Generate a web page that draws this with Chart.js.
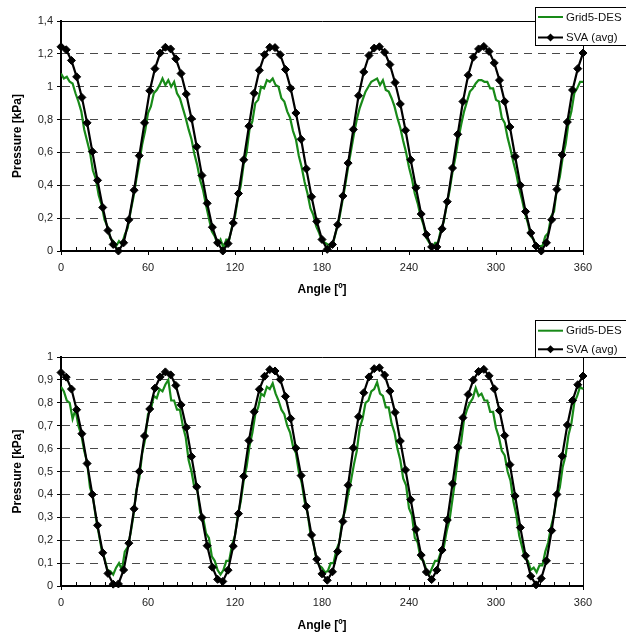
<!DOCTYPE html>
<html lang="en">
<head>
<meta charset="UTF-8">
<title>Pressure vs Angle</title>
<script src="https://cdn.jsdelivr.net/npm/chart.js"></script>
<style>
    body { margin: 0; background: #fff; }
    .grafico { position: absolute; left: 0; }
</style>
</head>
<body>
<canvas id="chartTop" class="grafico" width="626" height="305" style="top:0px"></canvas>
<canvas id="chartBottom" class="grafico" width="626" height="327" style="top:310px"></canvas>
<script>
// angulos das series
var anguloSVA = [0, 3.6, 7.2, 10.8, 14.4, 18, 21.6, 25.2, 28.8, 32.4, 36, 39.6, 43.2, 46.8, 50.4, 54, 57.6, 61.2, 64.8, 68.4,
    72, 75.6, 79.2, 82.8, 86.4, 90, 93.6, 97.2, 100.8, 104.4, 108, 111.6, 115.2, 118.8, 122.4, 126, 129.6, 133.2, 136.8, 140.4,
    144, 147.6, 151.2, 154.8, 158.4, 162, 165.6, 169.2, 172.8, 176.4, 180, 183.6, 187.2, 190.8, 194.4, 198, 201.6, 205.2, 208.8, 212.4,
    216, 219.6, 223.2, 226.8, 230.4, 234, 237.6, 241.2, 244.8, 248.4, 252, 255.6, 259.2, 262.8, 266.4, 270, 273.6, 277.2, 280.8, 284.4,
    288, 291.6, 295.2, 298.8, 302.4, 306, 309.6, 313.2, 316.8, 320.4, 324, 327.6, 331.2, 334.8, 338.4, 342, 345.6, 349.2, 352.8, 356.4, 360];

var anguloDES = [0, 2, 4, 6, 8, 10, 12, 14, 16, 18, 20, 22, 24, 26, 28, 30, 32, 34, 36, 38,
    40, 42, 44, 46, 48, 50, 52, 54, 56, 58, 60, 62, 64, 66, 68, 70, 72, 74, 76, 78,
    80, 82, 84, 86, 88, 90, 92, 94, 96, 98, 100, 102, 104, 106, 108, 110, 112, 114, 116, 118,
    120, 122, 124, 126, 128, 130, 132, 134, 136, 138, 140, 142, 144, 146, 148, 150, 152, 154, 156, 158,
    160, 162, 164, 166, 168, 170, 172, 174, 176, 178, 180, 182, 184, 186, 188, 190, 192, 194, 196, 198,
    200, 202, 204, 206, 208, 210, 212, 214, 216, 218, 220, 222, 224, 226, 228, 230, 232, 234, 236, 238,
    240, 242, 244, 246, 248, 250, 252, 254, 256, 258, 260, 262, 264, 266, 268, 270, 272, 274, 276, 278,
    280, 282, 284, 286, 288, 290, 292, 294, 296, 298, 300, 302, 304, 306, 308, 310, 312, 314, 316, 318,
    320, 322, 324, 326, 328, 330, 332, 334, 336, 338, 340, 342, 344, 346, 348, 350, 352, 354, 356, 358,
    360, 362];

var ticksX = [0, 60, 120, 180, 240, 300, 360];

// grafico de cima
var svaTop = [1.243, 1.225, 1.16, 1.06, 0.935, 0.78, 0.605, 0.43, 0.265, 0.125, 0.04, 0.0, 0.05, 0.19, 0.37, 0.58, 0.78, 0.975, 1.11, 1.205,
    1.24, 1.23, 1.17, 1.08, 0.955, 0.805, 0.635, 0.46, 0.29, 0.145, 0.05, 0.0, 0.045, 0.17, 0.35, 0.555, 0.76, 0.96, 1.1, 1.195,
    1.24, 1.238, 1.195, 1.105, 0.99, 0.84, 0.68, 0.5, 0.33, 0.18, 0.07, 0.01, 0.04, 0.16, 0.335, 0.535, 0.74, 0.945, 1.09, 1.19,
    1.235, 1.243, 1.21, 1.135, 1.025, 0.895, 0.735, 0.555, 0.385, 0.225, 0.1, 0.025, 0.025, 0.135, 0.3, 0.505, 0.71, 0.91, 1.07, 1.18,
    1.23, 1.245, 1.215, 1.145, 1.04, 0.91, 0.755, 0.575, 0.4, 0.24, 0.11, 0.03, 0.0, 0.05, 0.19, 0.375, 0.585, 0.785, 0.98, 1.11, 1.205];

var desTop = [1.08, 1.05, 1.06, 1.03, 1.02, 0.96, 0.91, 0.85, 0.74, 0.67, 0.6, 0.49, 0.44, 0.34, 0.28, 0.19, 0.15, 0.08, 0.06, 0.03,
    0.06, 0.04, 0.1, 0.14, 0.24, 0.33, 0.44, 0.54, 0.65, 0.73, 0.84, 0.88, 0.96, 0.98, 1.01, 1.05, 1.01, 1.04, 1.0, 1.03,
    0.96, 0.93, 0.87, 0.81, 0.74, 0.68, 0.59, 0.52, 0.43, 0.37, 0.28, 0.2, 0.12, 0.09, 0.04, 0.07, 0.02, 0.07, 0.07, 0.15,
    0.21, 0.32, 0.4, 0.53, 0.6, 0.74, 0.79, 0.9, 0.92, 1.0, 0.99, 1.04, 1.03, 1.05, 1.01, 1.0, 0.93, 0.91, 0.85, 0.81,
    0.73, 0.68, 0.58, 0.51, 0.42, 0.35, 0.26, 0.22, 0.15, 0.11, 0.06, 0.05, 0.04, 0.03, 0.06, 0.13, 0.2, 0.3, 0.4, 0.51,
    0.61, 0.71, 0.8, 0.87, 0.92, 0.97, 1.0, 1.03, 1.04, 1.05, 1.01, 1.04, 0.98, 0.97, 0.93, 0.88, 0.81, 0.75, 0.67, 0.6,
    0.51, 0.44, 0.35, 0.29, 0.21, 0.16, 0.08, 0.05, 0.02, 0.05, 0.05, 0.13, 0.18, 0.28, 0.37, 0.48, 0.57, 0.68, 0.77, 0.85,
    0.91, 0.97, 0.99, 1.02, 1.04, 1.04, 1.03, 1.03, 0.99, 0.99, 0.92, 0.91, 0.81, 0.78, 0.69, 0.62, 0.54, 0.47, 0.38, 0.31,
    0.23, 0.17, 0.09, 0.07, 0.02, 0.03, 0.03, 0.09, 0.11, 0.21, 0.24, 0.38, 0.45, 0.57, 0.65, 0.78, 0.85, 0.96, 0.99, 1.03,
    1.03, 1.06];

// grafico de baixo
var svaBottom = [0.932, 0.912, 0.86, 0.77, 0.665, 0.535, 0.4, 0.265, 0.145, 0.055, 0.008, 0.009, 0.07, 0.187, 0.337, 0.5, 0.655, 0.773, 0.864, 0.913,
    0.935, 0.922, 0.876, 0.791, 0.692, 0.565, 0.433, 0.299, 0.176, 0.082, 0.029, 0.02, 0.069, 0.174, 0.316, 0.479, 0.635, 0.761, 0.859, 0.916,
    0.945, 0.939, 0.902, 0.828, 0.731, 0.602, 0.482, 0.348, 0.223, 0.117, 0.053, 0.025, 0.062, 0.151, 0.282, 0.44, 0.603, 0.739, 0.844, 0.913,
    0.949, 0.953, 0.921, 0.851, 0.758, 0.633, 0.507, 0.377, 0.247, 0.135, 0.061, 0.028, 0.069, 0.157, 0.288, 0.446, 0.606, 0.735, 0.836, 0.9,
    0.937, 0.946, 0.918, 0.861, 0.766, 0.657, 0.53, 0.393, 0.255, 0.132, 0.043, 0.005, 0.033, 0.11, 0.242, 0.4, 0.567, 0.703, 0.81, 0.879, 0.917];

var desBottom = [0.87, 0.85, 0.81, 0.8, 0.73, 0.77, 0.7, 0.66, 0.59, 0.54, 0.43, 0.39, 0.3, 0.23, 0.16, 0.12, 0.07, 0.065, 0.05, 0.08,
    0.1, 0.07, 0.15, 0.17, 0.23, 0.31, 0.42, 0.47, 0.58, 0.64, 0.75, 0.77, 0.83, 0.82, 0.86, 0.85, 0.88, 0.9, 0.81, 0.81,
    0.77, 0.77, 0.7, 0.65, 0.55, 0.5, 0.43, 0.42, 0.32, 0.3, 0.23, 0.21, 0.13, 0.11, 0.07, 0.05, 0.07, 0.11, 0.11, 0.18,
    0.22, 0.31, 0.37, 0.46, 0.52, 0.61, 0.67, 0.75, 0.78, 0.84, 0.83, 0.87, 0.86, 0.885, 0.84, 0.81, 0.77, 0.75, 0.7, 0.67,
    0.61, 0.58, 0.5, 0.45, 0.37, 0.32, 0.23, 0.19, 0.12, 0.09, 0.08, 0.06, 0.065, 0.1, 0.1, 0.16, 0.19, 0.29, 0.33, 0.4,
    0.46, 0.53, 0.59, 0.69, 0.73, 0.8, 0.81, 0.85, 0.86, 0.89, 0.84, 0.83, 0.78, 0.78, 0.71, 0.67, 0.6, 0.55, 0.47, 0.44,
    0.34, 0.31, 0.21, 0.19, 0.12, 0.11, 0.07, 0.05, 0.08, 0.11, 0.11, 0.15, 0.17, 0.24, 0.29, 0.38, 0.47, 0.58, 0.63, 0.73,
    0.77, 0.8, 0.82, 0.865, 0.83, 0.84, 0.81, 0.81, 0.76, 0.76, 0.69, 0.65, 0.59, 0.57, 0.5, 0.46, 0.37, 0.31, 0.22, 0.17,
    0.12, 0.11, 0.07, 0.08, 0.06, 0.09, 0.09, 0.15, 0.19, 0.26, 0.31, 0.39, 0.43, 0.52, 0.57, 0.66, 0.71, 0.8, 0.83, 0.87,
    0.86, 0.87];

var corVerde = '#188a18';

Chart.defaults.font.family = "'Liberation Sans', Arial, sans-serif";
Chart.defaults.font.size = 11;
Chart.defaults.color = '#222';

// linhas de cima e da direita da area do grafico + tracinhos menores do eixo x
var moldura = {
    id: 'moldura',
    beforeDatasetsDraw(chart) {
        var a = chart.chartArea, ctx = chart.ctx, sx = chart.scales.x;
        ctx.save();
        ctx.strokeStyle = '#000';
        ctx.lineWidth = 1;
        ctx.beginPath();
        ctx.moveTo(a.left, a.top + 0.5);
        ctx.lineTo(a.right + 0.5, a.top + 0.5);
        ctx.lineTo(a.right + 0.5, a.bottom);
        for (var v = 10; v < 360; v += 10) {
            if (v % 60 === 0) continue;
            var px = Math.round(sx.getPixelForValue(v)) + 0.5;
            ctx.moveTo(px, a.bottom);
            ctx.lineTo(px, a.bottom - 4);
        }
        ctx.stroke();
        ctx.restore();
    }
};

// legenda com caixa no canto
var caixaLegenda = {
    id: 'caixaLegenda',
    afterDraw(chart, args, opts) {
        var ctx = chart.ctx;
        ctx.save();
        ctx.fillStyle = '#fff';
        ctx.fillRect(opts.x, opts.top, 120, opts.bottom - opts.top);
        ctx.strokeStyle = '#000';
        ctx.lineWidth = 1;
        ctx.strokeRect(opts.x + 0.5, opts.top + 0.5, 120, opts.bottom - opts.top);
        var ds = chart.data.datasets;
        var itens = [ds[1], ds[0]];
        ctx.font = "11.5px 'Liberation Sans', Arial, sans-serif";
        ctx.textBaseline = 'middle';
        itens.forEach(function (d, i) {
            var y = opts.linhas[i];
            ctx.strokeStyle = d.borderColor;
            ctx.lineWidth = 2;
            ctx.beginPath();
            ctx.moveTo(opts.x + 3, y);
            ctx.lineTo(opts.x + 28, y);
            ctx.stroke();
            if (d.pointRadius > 0) {
                ctx.fillStyle = '#000';
                ctx.beginPath();
                var cx = opts.x + 15.5, r = 4;
                ctx.moveTo(cx, y - r);
                ctx.lineTo(cx + r, y);
                ctx.lineTo(cx, y + r);
                ctx.lineTo(cx - r, y);
                ctx.closePath();
                ctx.fill();
            }
            ctx.fillStyle = '#111';
            ctx.fillText(d.label, opts.x + 31, y + 0.5);
        });
        ctx.restore();
    }
};

function formataY(v) {
    var r = Math.round(v * 10) / 10;
    return String(r).replace('.', ',');
}

function montarGrafico(id, verde, preto, yMax, yStep, topo, alturaX, padTitulo, legenda) {
    var pontosPreto = anguloSVA.map(function (a, i) { return { x: a, y: preto[i] }; });
    var pontosVerde = anguloDES.map(function (a, i) { return { x: a, y: verde[i] }; });
    return new Chart(document.getElementById(id), {
        type: 'scatter',
        data: {
            datasets: [
                {
                    label: 'SVA (avg)',
                    data: pontosPreto,
                    showLine: true,
                    borderColor: '#000',
                    borderWidth: 2.2,
                    pointStyle: 'rectRot',
                    pointRadius: 4,
                    pointBackgroundColor: '#000',
                    pointBorderColor: '#000',
                    pointBorderWidth: 1,
                    clip: false,
                    order: 0
                },
                {
                    label: 'Grid5-DES',
                    data: pontosVerde,
                    showLine: true,
                    borderColor: corVerde,
                    borderWidth: 2.2,
                    pointRadius: 0,
                    clip: { left: 0, top: 0, right: 5, bottom: 0 },
                    order: 1
                }
            ]
        },
        options: {
            responsive: false,
            animation: false,
            layout: { padding: { top: topo, right: 43, left: 0, bottom: 0 } },
            plugins: {
                legend: { display: false },
                tooltip: { enabled: false },
                caixaLegenda: legenda
            },
            scales: {
                x: {
                    type: 'linear',
                    min: 0,
                    max: 360,
                    afterFit: function (s) { s.height = alturaX; },
                    afterBuildTicks: function (s) { s.ticks = ticksX.map(function (v) { return { value: v }; }); },
                    ticks: { autoSkip: false, maxRotation: 0, padding: 6 },
                    grid: { drawOnChartArea: false, tickLength: 4, color: '#000' },
                    border: { color: '#000', width: 2 },
                    title: {
                        display: true,
                        text: 'Angle [º]',
                        color: '#000',
                        font: { weight: 'bold', size: 12 },
                        padding: { top: 0, bottom: padTitulo }
                    }
                },
                y: {
                    min: 0,
                    max: yMax,
                    afterFit: function (s) { s.width = 61; },
                    ticks: { stepSize: yStep, padding: 4, callback: formataY },
                    grid: {
                        color: function (c) {
                            if (!c.tick) return '#4a4a4a';
                            var v = c.tick.value;
                            return (v === 0 || Math.abs(v - yMax) < 1e-6) ? 'rgba(0,0,0,0)' : '#4a4a4a';
                        },
                        tickLength: 4,
                        tickColor: '#000',
                        tickBorderDash: []
                    },
                    border: { color: '#000', width: 2, dash: [8, 6] },
                    title: {
                        display: true,
                        text: 'Pressure [kPa]',
                        color: '#000',
                        font: { weight: 'bold', size: 12 },
                        padding: { top: 10, bottom: 0 }
                    }
                }
            }
        },
        plugins: [moldura, caixaLegenda]
    });
}

var graficoTop = montarGrafico('chartTop', desTop, svaTop, 1.4, 0.2, 21, 54, 7.8,
    { x: 535, top: 7, bottom: 45, linhas: [17, 37.5] });
var graficoBottom = montarGrafico('chartBottom', desBottom, svaBottom, 1, 0.1, 47, 51, 3.8,
    { x: 535, top: 10, bottom: 47, linhas: [20.7, 39.3] });
</script>
</body>
</html>
